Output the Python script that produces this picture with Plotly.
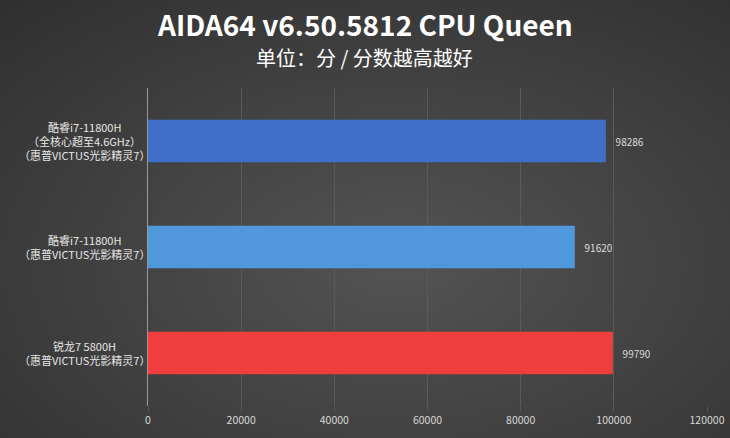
import plotly.graph_objects as go

categories = [
    "锐龙7 5800H<br>（惠普VICTUS光影精灵7）",
    "酷睿i7-11800H<br>（惠普VICTUS光影精灵7）",
    "酷睿i7-11800H<br>（全核心超至4.6GHz）<br>（惠普VICTUS光影精灵7）",
]
values = [99790, 91620, 98286]
bar_colors = ["#f03e3e", "#4f98dc", "#3f6fc6"]
tick_vals = [0, 20000, 40000, 60000, 80000, 100000, 120000]
title = "AIDA64 v6.50.5812 CPU Queen"
subtitle = "单位：分 / 分数越高越好"

fig = go.Figure()
fig.add_trace(go.Bar(
    y=list(range(len(categories))),
    x=values,
    orientation="h",
    width=0.4,
    marker=dict(color=bar_colors, line=dict(width=0)),
    text=["   " + str(v) for v in values],
    texttemplate="%{text}",
    textposition="outside",
    textfont=dict(color="#dcdcdc", size=10, family="Noto Sans CJK SC"),
    cliponaxis=False,
    hoverinfo="skip",
))

# radial-ish background glow
shapes = []
n = 40
for i in range(n):
    f = 1 - i / n
    shapes.append(dict(
        type="circle", xref="paper", yref="paper", layer="below",
        x0=0.45 - 1.15 * f, x1=0.45 + 1.15 * f,
        y0=0.45 - 1.25 * f, y1=0.45 + 1.25 * f,
        fillcolor="rgba(255,255,255,0.0085)", line=dict(width=0),
    ))

annotations = [
    dict(text="<b>" + title + "</b>", xref="paper", yref="paper", x=0.388, y=1.2,
         xanchor="center", yanchor="middle", showarrow=False,
         font=dict(size=28, color="#ffffff", family="Noto Sans CJK SC")),
    dict(text=subtitle, xref="paper", yref="paper", x=0.388, y=1.095,
         xanchor="center", yanchor="middle", showarrow=False,
         font=dict(size=20, color="#ffffff", family="Noto Sans CJK SC")),
]
line_gap = 14
for i, c in enumerate(categories):
    lines = c.split("<br>")
    k = len(lines)
    for j, ln in enumerate(lines):
        annotations.append(dict(
            text=ln, xref="paper", yref="y", x=-0.113, y=i,
            yshift=((k - 1) / 2 - j) * line_gap,
            xanchor="center", yanchor="middle", align="center", showarrow=False,
            font=dict(size=11, color="#e6e6e6", family="Noto Sans CJK SC"),
        ))

fig.update_layout(
    width=730, height=438,
    margin=dict(l=148, r=23, t=88, b=32, autoexpand=False),
    paper_bgcolor="#2b2b2b",
    plot_bgcolor="rgba(0,0,0,0)",
    shapes=shapes,
    annotations=annotations,
    showlegend=False,
    bargap=0.6,
    xaxis=dict(
        range=[0, 120000], tickvals=tick_vals, ticktext=[str(t) for t in tick_vals],
        showgrid=True, gridcolor="#5a5a5a", gridwidth=1,
        zeroline=False, showline=False,
        ticks="outside", ticklen=4, tickcolor="#5a5a5a",
        tickfont=dict(size=10.5, color="#d8d8d8", family="Noto Sans CJK SC"),
        automargin=False, ticklabeloverflow="allow",
        fixedrange=True,
    ),
    yaxis=dict(
        range=[-0.5, 2.5], showticklabels=False, showgrid=False,
        zeroline=False, showline=True, linecolor="#9a9a9a", linewidth=1,
        ticks="", fixedrange=True, automargin=False,
    ),
)

fig.write_html(
    "out.html",
    config={"displayModeBar": False, "responsive": False},
    post_script=(
        "document.documentElement.style.overflow='hidden';"
        "document.body.style.overflow='hidden';"
        "document.body.style.margin='0';"
        "document.body.style.background='#2b2b2b';"
    ),
)
